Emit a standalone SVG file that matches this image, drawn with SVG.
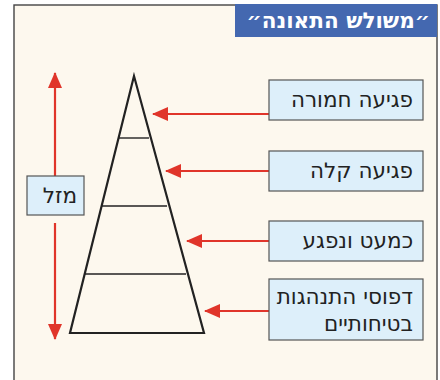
<svg xmlns="http://www.w3.org/2000/svg" width="440" height="380" viewBox="0 0 440 380">
<defs>
<style>
.box{fill:#DDEFFA;stroke:#555;stroke-width:1.2}
.lbl{font-family:"DejaVu Sans","Liberation Sans",sans-serif;font-size:21.5px;fill:#222;direction:rtl;text-anchor:start}
.red{stroke:#E0352A;stroke-width:2.2;fill:none}
.tri{stroke:#222;stroke-width:2.2;fill:none;stroke-linejoin:miter}
.rung{stroke:#222;stroke-width:1.4}
</style>
<marker id="ah" viewBox="0 0 16 14" refX="15" refY="7" markerWidth="16" markerHeight="14" markerUnits="userSpaceOnUse" orient="auto">
<path d="M0,0 L16,7 L0,14 Z" fill="#E0352A"/>
</marker>
</defs>
<rect x="0" y="0" width="440" height="380" fill="#ffffff"/>
<rect x="14" y="5" width="423" height="390" fill="#FDF8EE" stroke="#444" stroke-width="1.4"/>
<g id="title">
<rect x="235" y="4" width="202" height="33" fill="#4468B0"/>
<text x="430" y="28" style="font-family:'DejaVu Sans','Liberation Sans',sans-serif;font-size:21.5px;font-weight:bold;fill:#fff;direction:rtl;text-anchor:start">״משולש התאונה״</text>
</g>
<g id="connectors">
<line class="red" x1="55" y1="176" x2="55" y2="73" marker-end="url(#ah)"/>
<line class="red" x1="55" y1="223" x2="55" y2="339" marker-end="url(#ah)"/>
<line class="red" x1="269" y1="114" x2="153" y2="114" marker-end="url(#ah)"/>
<line class="red" x1="269" y1="171" x2="166" y2="171" marker-end="url(#ah)"/>
<line class="red" x1="269" y1="241" x2="187" y2="241" marker-end="url(#ah)"/>
<line class="red" x1="269" y1="311" x2="205" y2="311" marker-end="url(#ah)"/>
</g>
<g id="triangle">
<path class="tri" d="M134,76 L70,333 L204,333 Z"/>
<line class="rung" x1="119" y1="138" x2="149" y2="138"/>
<line class="rung" x1="102" y1="206" x2="167" y2="206"/>
<line class="rung" x1="85" y1="274" x2="186" y2="274"/>
</g>
<g id="mazal">
<rect class="box" x="27" y="176" width="57" height="39"/>
<text class="lbl" x="77" y="203">מזל</text>
</g>
<g id="severe">
<rect class="box" x="269" y="80" width="154" height="40"/>
<text class="lbl" x="413" y="107">פגיעה חמורה</text>
</g>
<g id="light">
<rect class="box" x="269" y="151" width="154" height="40"/>
<text class="lbl" x="413" y="178">פגיעה קלה</text>
</g>
<g id="nearmiss">
<rect class="box" x="269" y="221" width="154" height="40"/>
<text class="lbl" x="413" y="248">כמעט ונפגע</text>
</g>
<g id="patterns">
<rect class="box" x="269" y="279" width="154" height="61"/>
<text class="lbl" x="413" y="304">דפוסי התנהגות</text>
<text class="lbl" x="413" y="331">בטיחותיים</text>
</g>
</svg>
